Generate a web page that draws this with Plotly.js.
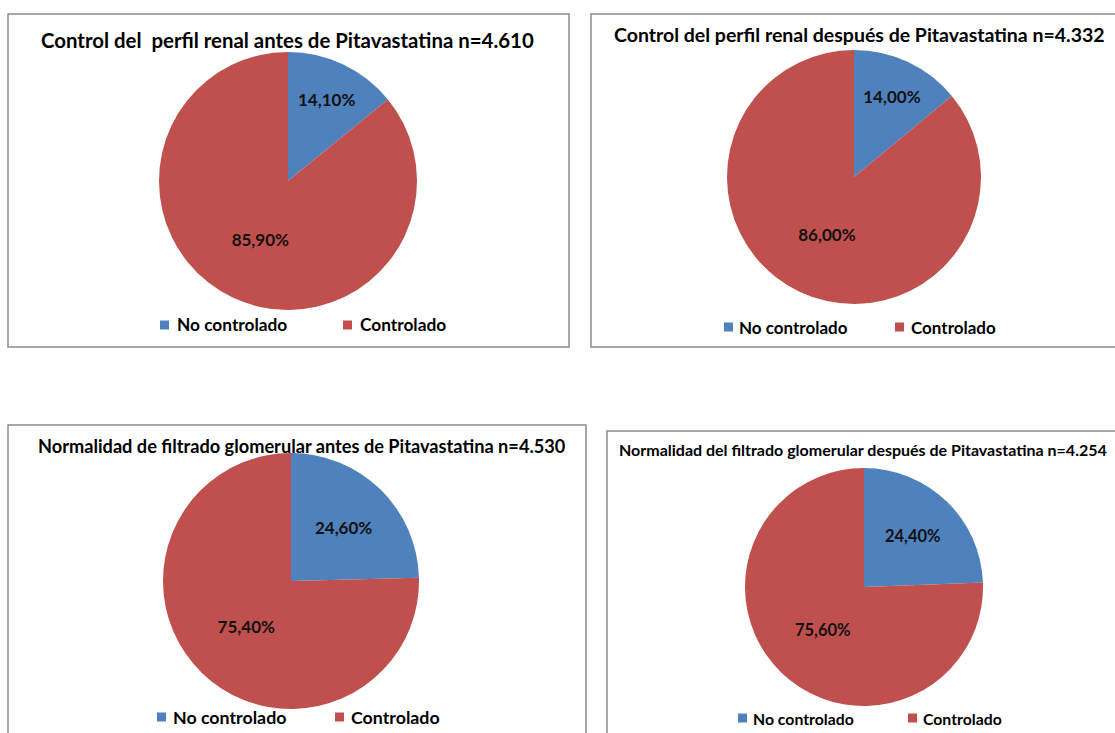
<!DOCTYPE html>
<html>
<head>
<meta charset="utf-8">
<script src="https://cdn.plot.ly/plotly-3.0.1.min.js"></script>
<style>
  html, body { margin: 0; padding: 0; background: #ffffff; }
  #chart { width: 1115px; height: 733px; }
</style>
</head>
<body>
<div id="chart"></div>
<script>
// Categories shared by the four pies
const categories = ["No controlado", "Controlado"];
const sliceColors = ["#4F81BD", "#C0504D"];

// Percentages per chart
const renalAntes = [14.1, 85.9];
const renalDespues = [14.0, 86.0];
const filtradoAntes = [24.6, 75.4];
const filtradoDespues = [24.4, 75.6];

// Chart titles
const titles = [
  "Control del\u00a0 perfil renal antes de Pitavastatina n=4.610",
  "Control del perfil renal después de Pitavastatina n=4.332",
  "Normalidad de filtrado glomerular antes de Pitavastatina n=4.530",
  "Normalidad del filtrado glomerular después de Pitavastatina n=4.254"
];

const W = 1115, H = 733;
const px = x => x / W;
const py = y => 1 - y / H;
const FONT = "Lato, 'Open Sans', sans-serif";

// Layout of each panel: frame box, pie centre/radius, title and legend placement
const panels = [
  { values: renalAntes, frame: [8, 14, 569, 347], cx: 288, cy: 181, r: 129,
    title: { x: 287, y: 40, size: 20.4 }, label: 17,
    legend: { y: 325, size: 17.3, sq: [160, 343], tx: [175, 358] } },
  { values: renalDespues, frame: [591, 14, 1125, 347], cx: 854, cy: 177, r: 127,
    title: { x: 859, y: 35, size: 19.5 }, label: 17,
    legend: { y: 327, size: 17, sq: [724, 895], tx: [737, 909] } },
  { values: filtradoAntes, frame: [8, 425, 586, 745], cx: 291, cy: 581, r: 128,
    title: { x: 302, y: 446, size: 18.2 }, label: 17,
    legend: { y: 717, size: 17.8, sq: [157, 335], tx: [171, 349] } },
  { values: filtradoDespues, frame: [607, 431, 1125, 745], cx: 864, cy: 587, r: 119,
    title: { x: 863, y: 449, size: 16 }, label: 16.5,
    legend: { y: 718, size: 15.8, sq: [738, 908], tx: [751, 921] } }
];

const fmt = v => v.toFixed(2).replace(".", ",") + "%";

const data = panels.map(p => ({
  type: "pie",
  labels: categories,
  values: p.values,
  text: p.values.map(fmt),
  textinfo: "text",
  textposition: "inside",
  insidetextorientation: "horizontal",
  insidetextfont: { family: FONT, size: p.label, color: "#111111", weight: "bold" },
  marker: { colors: sliceColors, line: { width: 0 } },
  sort: false,
  direction: "clockwise",
  rotation: 0,
  hole: 0,
  showlegend: false,
  domain: { x: [px(p.cx - p.r), px(p.cx + p.r)], y: [py(p.cy + p.r), py(p.cy - p.r)] }
}));

const shapes = [];
const annotations = [];

panels.forEach((p, i) => {
  const [x0, y0, x1, y1] = p.frame;
  shapes.push({
    type: "rect", xref: "paper", yref: "paper",
    x0: px(x0), x1: px(x1), y0: py(y1), y1: py(y0),
    line: { color: "#8c8c8c", width: 1.5 }, fillcolor: "rgba(0,0,0,0)", layer: "below"
  });
  annotations.push({
    xref: "paper", yref: "paper", x: px(p.title.x), y: py(p.title.y),
    xanchor: "center", yanchor: "middle", showarrow: false,
    text: "<b>" + titles[i] + "</b>",
    font: { family: FONT, size: p.title.size, color: "#000000" }
  });
  // legend swatches and labels
  categories.forEach((c, k) => {
    const sx = p.legend.sq[k];
    shapes.push({
      type: "rect", xref: "paper", yref: "paper",
      x0: px(sx), x1: px(sx + 9), y0: py(p.legend.y + 4.5), y1: py(p.legend.y - 4.5),
      line: { width: 0 }, fillcolor: sliceColors[k]
    });
    annotations.push({
      xref: "paper", yref: "paper", x: px(p.legend.tx[k]), y: py(p.legend.y),
      xanchor: "left", yanchor: "middle", showarrow: false,
      text: "<b>" + c + "</b>",
      font: { family: FONT, size: p.legend.size, color: "#000000" }
    });
  });
});

const layout = {
  width: W, height: H,
  margin: { l: 0, r: 0, t: 0, b: 0 },
  paper_bgcolor: "#ffffff",
  plot_bgcolor: "#ffffff",
  font: { family: FONT },
  shapes: shapes,
  annotations: annotations,
  showlegend: false
};

Plotly.newPlot("chart", data, layout, { displayModeBar: false, staticPlot: true });
</script>
</body>
</html>
